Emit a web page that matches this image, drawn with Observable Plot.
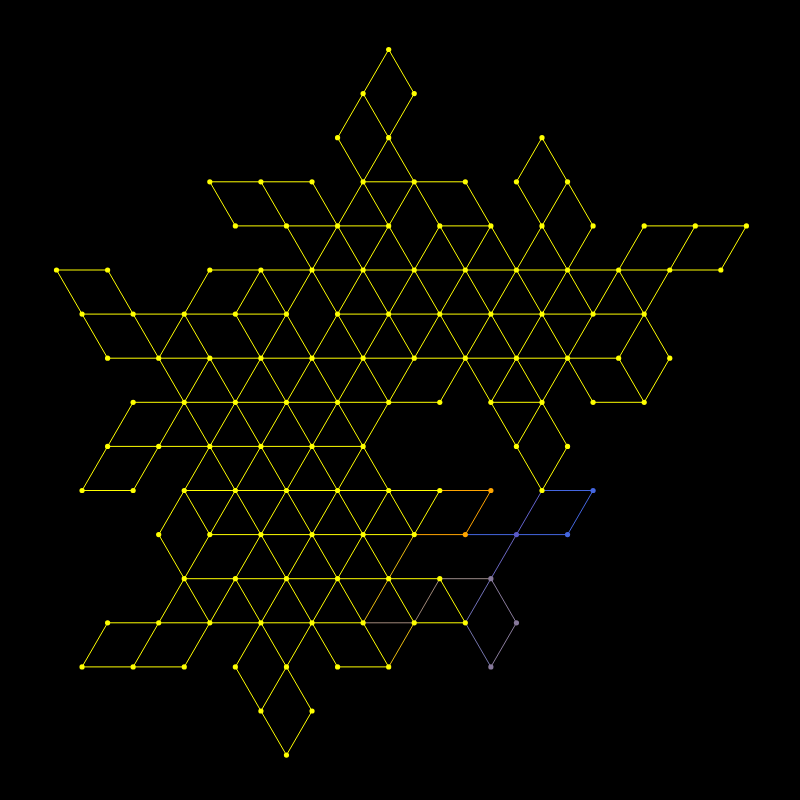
<!DOCTYPE html>
<html>
<head>
<meta charset="utf-8">
<script src="https://cdn.jsdelivr.net/npm/d3@7"></script>
<script src="https://cdn.jsdelivr.net/npm/@observablehq/plot@0.6"></script>
<style>
  html, body { margin: 0; padding: 0; background: #000; }
  #chart svg { display: block; }
</style>
</head>
<body>
<div id="chart"></div>
<script>
// Triangular lattice: c = half-step column, r = row (top to bottom)
const rowNodes = [
  [13],
  [12, 14],
  [11, 13, 19],
  [6, 8, 10, 12, 14, 16, 18, 20],
  [7, 9, 11, 13, 15, 17, 19, 21, 23, 25, 27],
  [0, 2, 6, 8, 10, 12, 14, 16, 18, 20, 22, 24, 26],
  [1, 3, 5, 7, 9, 11, 13, 15, 17, 19, 21, 23],
  [2, 4, 6, 8, 10, 12, 14, 16, 18, 20, 22, 24],
  [3, 5, 7, 9, 11, 13, 15, 17, 19, 21, 23],
  [2, 4, 6, 8, 10, 12, 18, 20],
  [1, 3, 5, 7, 9, 11, 13, 15, 17, 19, 21],
  [4, 6, 8, 10, 12, 14, 16, 18, 20],
  [5, 7, 9, 11, 13, 15, 17],
  [2, 4, 6, 8, 10, 12, 14, 16, 18],
  [1, 3, 5, 7, 9, 11, 13, 17],
  [8, 10],
  [9]
];

// yellow edges: horizontal (c -> c+2), down-left (c,r -> c-1,r+1), down-right (c,r -> c+1,r+1)
const horizontal = [
  [], [], [],
  [6, 8, 12, 14],
  [7, 9, 11, 15, 23, 25],
  [0, 6, 8, 10, 12, 14, 16, 18, 20, 22, 24],
  [1, 3, 5, 7, 11, 13, 15, 17, 19, 21],
  [2, 4, 6, 8, 10, 12, 14, 16, 18, 20],
  [3, 5, 7, 9, 11, 13, 17, 21],
  [2, 4, 6, 8, 10],
  [1, 5, 7, 9, 11, 13],
  [6, 8, 10, 12],
  [5, 7, 9, 11, 13],
  [2, 4, 6, 8, 10, 14],
  [1, 3, 11],
  [], []
];
const downLeft = [
  [13],
  [12, 14],
  [13, 19],
  [12, 14, 20],
  [11, 13, 15, 17, 19, 21, 23, 25, 27],
  [6, 8, 10, 12, 14, 16, 18, 20, 22, 24],
  [5, 9, 11, 13, 15, 17, 19, 21, 23],
  [6, 8, 10, 12, 14, 16, 18, 20, 24],
  [3, 5, 7, 9, 11, 13, 19],
  [2, 4, 6, 8, 10, 12, 20],
  [5, 7, 9, 11, 13, 15],
  [6, 8, 10, 12],
  [5, 7, 9, 11],
  [2, 4, 6, 8, 10],
  [9],
  [10]
];
const downRight = [
  [13],
  [12],
  [11, 13, 19],
  [6, 8, 10, 12, 14, 16, 18, 20],
  [9, 11, 13, 15, 17, 19],
  [0, 2, 8, 10, 12, 14, 16, 18, 20, 22],
  [1, 3, 5, 7, 9, 11, 13, 15, 17, 19, 23],
  [4, 6, 8, 10, 12, 16, 18, 20, 22],
  [5, 7, 9, 11, 17, 19],
  [6, 8, 10, 12, 18],
  [5, 7, 9, 11, 13],
  [4, 8, 10, 12],
  [5, 7, 9, 11, 13, 15],
  [8, 10, 12],
  [7, 9],
  [8]
];

// highlighted edges: [c1, r1, c2, r2, colour]
const colouredEdges = [
  [15, 10, 17, 10, "#ffa500"],
  [17, 10, 16, 11, "#ffa500"],
  [14, 11, 16, 11, "#ffa500"],
  [14, 11, 13, 12, "#ebbd10"],
  [13, 12, 12, 13, "#ebbd10"],
  [14, 13, 13, 14, "#ebbd10"],
  [15, 12, 17, 12, "#9c8a88"],
  [12, 13, 14, 13, "#a08878"],
  [15, 12, 14, 13, "#a08878"],
  [19, 10, 21, 10, "#4466e0"],
  [21, 10, 20, 11, "#4466e0"],
  [16, 11, 18, 11, "#4466e0"],
  [18, 11, 20, 11, "#4466e0"],
  [19, 10, 18, 11, "#6262cc"],
  [18, 11, 17, 12, "#6a66c0"],
  [17, 12, 16, 13, "#7070b8"],
  [16, 13, 17, 14, "#7474aa"],
  [17, 12, 18, 13, "#8a7c9c"],
  [18, 13, 17, 14, "#8a7c9c"]
];

// highlighted nodes: [c, r, colour]
const colouredNodes = [
  [17, 10, "#ffa500"],
  [16, 11, "#ffa500"],
  [21, 10, "#4466e0"],
  [20, 11, "#4466e0"],
  [18, 11, "#5a5ac8"],
  [17, 12, "#86789a"],
  [18, 13, "#86789a"],
  [17, 14, "#86789a"]
];

const YELLOW = "#ffff00";

const edges = [];
horizontal.forEach((cs, r) => cs.forEach(c => edges.push({x1: c, y1: r, x2: c + 2, y2: r, color: YELLOW})));
downLeft.forEach((cs, r) => cs.forEach(c => edges.push({x1: c, y1: r, x2: c - 1, y2: r + 1, color: YELLOW})));
downRight.forEach((cs, r) => cs.forEach(c => edges.push({x1: c, y1: r, x2: c + 1, y2: r + 1, color: YELLOW})));
colouredEdges.forEach(([c1, r1, c2, r2, color]) => edges.push({x1: c1, y1: r1, x2: c2, y2: r2, color}));

const special = new Map(colouredNodes.map(([c, r, color]) => [c + "," + r, color]));
const nodes = [];
rowNodes.forEach((cs, r) => cs.forEach(c => nodes.push({c, r, color: special.get(c + "," + r) || YELLOW})));

const chart = Plot.plot({
  width: 800,
  height: 800,
  marginTop: 0, marginBottom: 0, marginLeft: 0, marginRight: 0,
  style: {background: "#000"},
  x: {domain: [0, 27], range: [56, 745.9], axis: null},
  y: {domain: [0, 16], range: [49, 754.6], axis: null},
  color: {type: "identity"},
  marks: [
    Plot.link(edges, {x1: "x1", y1: "y1", x2: "x2", y2: "y2", stroke: "color", strokeWidth: 1}),
    Plot.dot(nodes, {x: "c", y: "r", fill: "color", r: 2.6})
  ]
});
document.getElementById("chart").append(chart);
</script>
</body>
</html>
